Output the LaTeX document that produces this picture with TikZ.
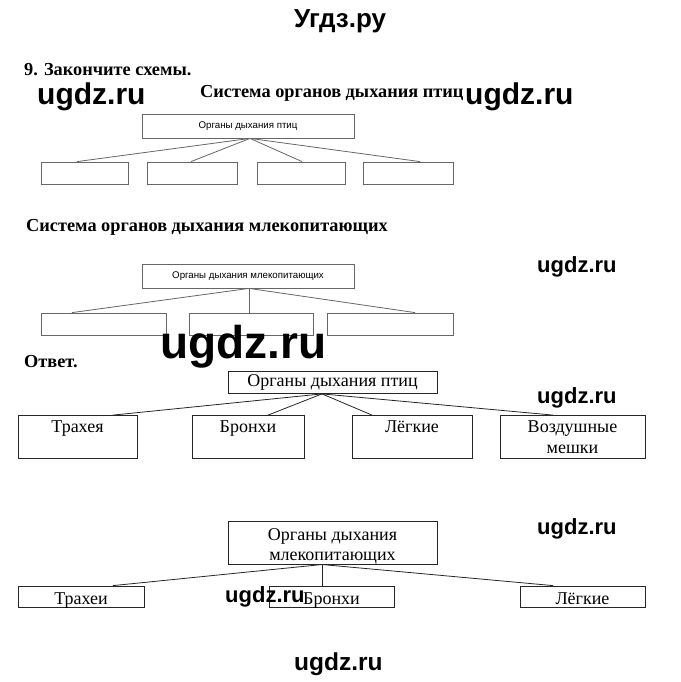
\documentclass[tikz,border=0pt]{standalone}
\usepackage{fontspec}
\setmainfont{Liberation Serif}
\setsansfont{Liberation Sans}
\newcommand{\wmark}[3]% name, base point, size
{\node[wmk,font=\sffamily\bfseries\fontsize{#3}{#3}\selectfont] (#1) at (#2) {ugdz.ru};
}

\begin{document}
\begin{tikzpicture}[x=1pt,y=-1pt,
  wmk/.style={anchor=base west,inner sep=0pt},
  head/.style={anchor=base west,inner sep=0pt,font=\bfseries\fontsize{18.3}{20}\selectfont},
  blank/.style={draw=black!60,line width=0.8pt,inner sep=0pt,font=\sffamily\fontsize{9.7}{10}\selectfont},
  ans/.style={draw=black!85,line width=0.8pt,inner sep=0pt,align=center,font=\fontsize{18}{21}\selectfont},
  low/.style={text height=15pt,text depth=0pt},
  qline/.style={draw=black!60,line width=0.8pt},
  aline/.style={draw=black!85,line width=0.8pt}]
			\useasboundingbox (0,0) rectangle (680,682);
			\node[inner sep=0pt,anchor=base,font=\sffamily\bfseries\fontsize{26}{26}\selectfont] (ttl) at (340,28) {Угдз.ру};
			\node[head] (task) at (24,76) {9. Закончите схемы.};
			\node[head] (h1) at (200,98) {Система органов дыхания птиц};
			\node[head] (h2) at (26,231) {Система органов дыхания млекопитающих};
			\node[head] (otv) at (24,367) {Ответ.};
			% blank scheme, birds
			\node[blank,minimum width=212pt,minimum height=24pt] (qb) at (248,126) {Органы дыхания птиц};
			\node[blank,minimum width=87pt,minimum height=22pt] (qb1) at (84.5,173) {};
			\node[blank,minimum width=90pt,minimum height=22pt] (qb2) at (192,173) {};
			\node[blank,minimum width=88pt,minimum height=22pt] (qb3) at (301,173) {};
			\node[blank,minimum width=90pt,minimum height=22pt] (qb4) at (408,173) {};
			\coordinate (qbj) at ([xshift=2pt]qb.south);
			\draw[qline] (qbj) -- ([xshift=-7.5pt]qb1.north);
			\draw[qline] (qbj) -- ([xshift=-1pt]qb2.north);
			\draw[qline] (qbj) -- ([xshift=1pt]qb3.north);
			\draw[qline] (qbj) -- ([xshift=12pt]qb4.north);
			% blank scheme, mammals
			\node[blank,minimum width=212pt,minimum height=24pt] (qm) at (248,276) {Органы дыхания млекопитающих};
			\node[blank,minimum width=125pt,minimum height=22pt] (qm1) at (103.5,324) {};
			\node[blank,minimum width=124pt,minimum height=22pt] (qm2) at (251,324) {};
			\node[blank,minimum width=126pt,minimum height=22pt] (qm3) at (390,324) {};
			\coordinate (qmj) at ([xshift=1pt]qm.south);
			\draw[qline] (qmj) -- ([xshift=-31.5pt]qm1.north);
			\draw[qline] (qmj) -- ([xshift=-2pt]qm2.north);
			\draw[qline] (qmj) -- ([xshift=25pt]qm3.north);
			% answer, birds
			\node[ans,minimum width=209pt,minimum height=22pt] (ab) at (332.5,382.5) {Органы дыхания птиц};
			\node[ans,minimum width=119pt,minimum height=43pt] (ab1) at (77.5,437) {Трахея\\~};
			\node[ans,minimum width=112pt,minimum height=43pt] (ab2) at (248,437) {Бронхи\\~};
			\node[ans,minimum width=120pt,minimum height=43pt] (ab3) at (412,437) {Лёгкие\\~};
			\node[ans,minimum width=145pt,minimum height=43pt] (ab4) at (572.5,437) {Воздушные\\мешки};
			\coordinate (abj) at ([xshift=-10.5pt]ab.south);
			\draw[aline] (abj) -- ([xshift=35.5pt]ab1.north);
			\draw[aline] (abj) -- ([xshift=20pt]ab2.north);
			\draw[aline] (abj) -- ([xshift=-40pt]ab3.north);
			\draw[aline] (abj) -- ([xshift=-19.5pt]ab4.north);
			% answer, mammals
			\node[ans,font=\fontsize{18}{19.5}\selectfont,minimum width=209pt,minimum height=42pt] (am) at (332.5,543) {\rule{0pt}{19pt}Органы дыхания\\млекопитающих};
			\node[ans,low,minimum width=126pt,minimum height=21pt] (am1) at (81,596.5) {Трахеи};
			\node[ans,low,minimum width=125pt,minimum height=21pt] (am2) at (331.5,596.5) {Бронхи};
			\node[ans,low,minimum width=125pt,minimum height=21pt] (am3) at (582.5,596.5) {Лёгкие};
			\coordinate (amj) at ([xshift=-10.5pt]am.south);
			\draw[aline] (amj) -- ([xshift=32pt]am1.north);
			\draw[aline] (amj) -- ([xshift=-9.5pt]am2.north);
			\draw[aline] (amj) -- ([xshift=-29.5pt]am3.north);
			% watermarks
			\wmark{w1}{37,105}{30}
			\wmark{w2}{465,105}{30}
			\wmark{w3}{537,272}{22}
			\wmark{w4}{160,358}{46}
			\wmark{w5}{537,403}{22}
			\wmark{w6}{537,534}{22}
			\wmark{w7}{225,602}{22}
			\wmark{w8}{294,670}{24.5}
\end{tikzpicture}
\end{document}
